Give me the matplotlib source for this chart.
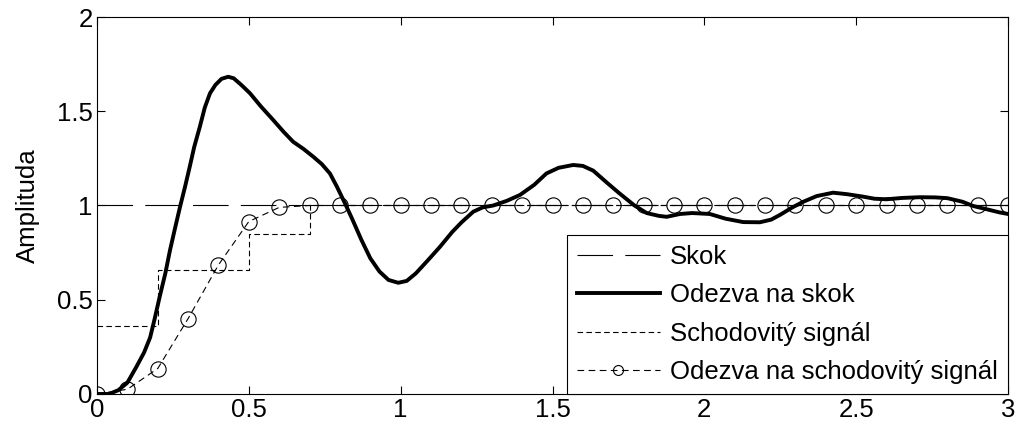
import matplotlib
matplotlib.use("Agg")
import matplotlib.pyplot as plt
from matplotlib.ticker import FuncFormatter

# step response (thick line)
t_resp = [0.0, 0.04, 0.07, 0.1, 0.13, 0.155, 0.175, 0.19, 0.207, 0.225, 0.24, 0.257,
          0.273, 0.29, 0.306, 0.32, 0.339, 0.355, 0.372, 0.39, 0.41, 0.432, 0.45,
          0.475, 0.504, 0.54, 0.58, 0.615, 0.646, 0.68, 0.712, 0.74, 0.767, 0.79,
          0.817, 0.84, 0.87, 0.9, 0.93, 0.96, 0.992, 1.02, 1.05, 1.09, 1.129, 1.17,
          1.2, 1.239, 1.27, 1.305, 1.35, 1.393, 1.44, 1.48, 1.52, 1.568, 1.6, 1.634,
          1.68, 1.72, 1.77, 1.81, 1.85, 1.876, 1.92, 1.96, 2.018, 2.07, 2.128, 2.183,
          2.22, 2.249, 2.29, 2.326, 2.37, 2.424, 2.47, 2.523, 2.56, 2.6, 2.65, 2.71,
          2.76, 2.8, 2.85, 2.886, 2.93, 2.973, 3.0]
y_resp = [0.0, 0.0, 0.02, 0.06, 0.145, 0.22, 0.3, 0.4, 0.52, 0.64, 0.76, 0.88,
          0.99, 1.1, 1.21, 1.31, 1.42, 1.52, 1.595, 1.64, 1.672, 1.683, 1.675,
          1.64, 1.595, 1.525, 1.454, 1.39, 1.338, 1.3, 1.259, 1.22, 1.17, 1.1,
          1.01, 0.93, 0.82, 0.72, 0.65, 0.605, 0.59, 0.6, 0.64, 0.71, 0.78, 0.86,
          0.91, 0.967, 0.99, 1.0, 1.025, 1.056, 1.11, 1.17, 1.2, 1.215, 1.21, 1.185,
          1.12, 1.065, 1.0, 0.96, 0.945, 0.94, 0.955, 0.96, 0.955, 0.93, 0.912, 0.911,
          0.925, 0.95, 0.99, 1.02, 1.05, 1.068, 1.06, 1.047, 1.036, 1.033, 1.04, 1.044,
          1.043, 1.039, 1.02, 0.997, 0.98, 0.963, 0.955]

# unit step
t_step = [0.0, 3.0]
y_step = [1.0, 1.0]

# staircase signal
t_stair = [0.0, 0.2, 0.5, 0.7, 3.0]
y_stair = [0.36, 0.66, 0.85, 1.0, 1.0]

# response to staircase signal (sampled every 0.1 s)
t_samp = [i / 10 for i in range(31)]
y_samp = [0.0, 0.025, 0.135, 0.4, 0.685, 0.915, 0.99] + [1.0] * 24

plt.rcParams['font.family'] = ['Liberation Sans', 'DejaVu Sans']
plt.rcParams['font.size'] = 18.5

fig = plt.figure(figsize=(10.19, 4.34), dpi=100)
ax = fig.add_axes([0.0952, 0.0922, 0.8940, 0.8686])

ax.plot(t_step, y_step, color='black', lw=0.8, dashes=(32, 11), label='Skok')
ax.plot(t_resp, y_resp, color='black', lw=2.8, label='Odezva na skok')
ax.step(t_stair, y_stair, where='post', color='black', lw=0.8, dashes=(5, 3),
        label='Schodovitý signál')
ax.plot(t_samp, y_samp, color='black', lw=0.8, dashes=(6, 4), marker='o',
        markersize=11, markerfacecolor='none', markeredgewidth=0.8,
        label='Odezva na schodovitý signál')

ax.set_xlim(0, 3)
ax.set_ylim(0, 2)
ax.set_xticks([0, 0.5, 1, 1.5, 2, 2.5, 3])
ax.set_yticks([0, 0.5, 1, 1.5, 2])
fmt = FuncFormatter(lambda v, p: '%g' % v)
ax.xaxis.set_major_formatter(fmt)
ax.yaxis.set_major_formatter(fmt)
ax.tick_params(direction='in', length=6, width=0.8, top=True, right=True, pad=3)
for s in ax.spines.values():
    s.set_linewidth(0.8)
ax.set_ylabel('Amplituda', labelpad=12)

leg = ax.legend(loc='lower right', bbox_to_anchor=(1.0, 0.0), borderaxespad=0.0,
                handlelength=3.2, handletextpad=0.4, labelspacing=0.55,
                borderpad=0.4, fancybox=False, framealpha=1, fontsize=18.5,
                markerscale=0.65)
leg.get_frame().set_edgecolor('black')
leg.get_frame().set_linewidth(0.8)

fig.savefig('out.png', dpi=100)
